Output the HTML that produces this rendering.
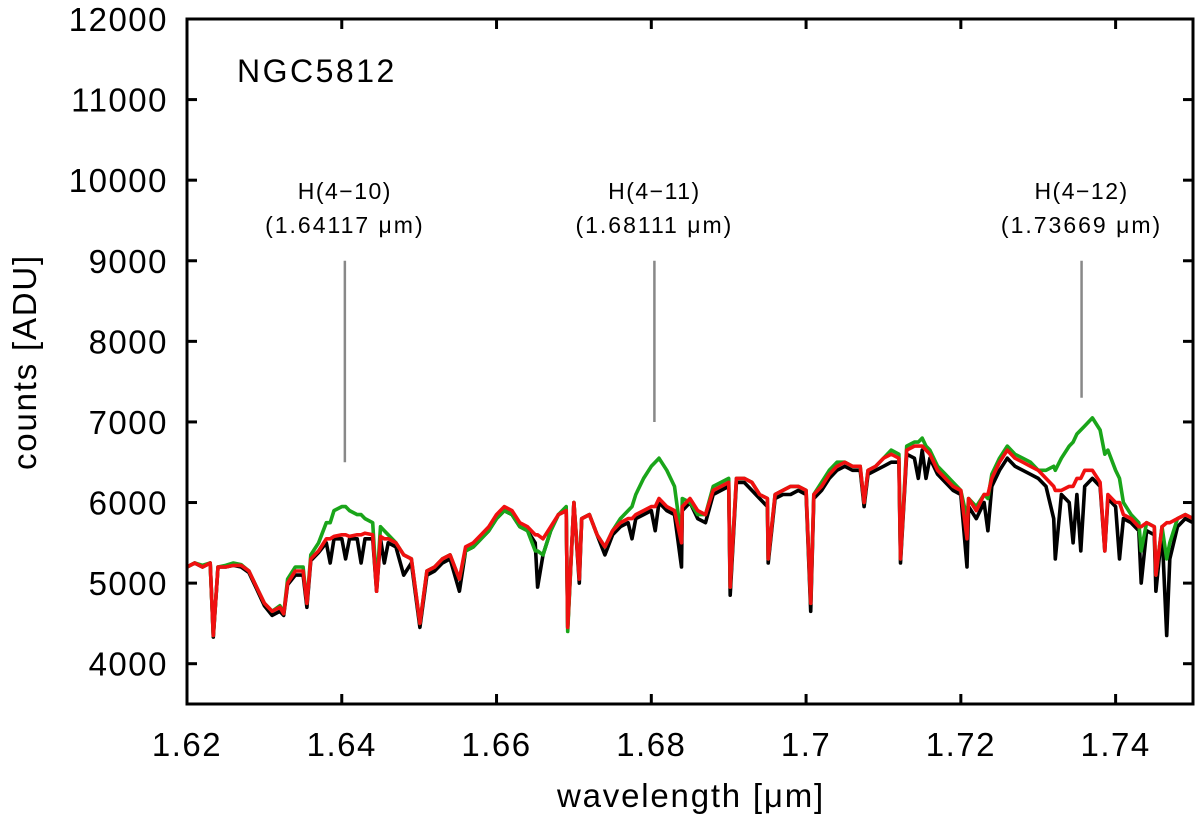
<!DOCTYPE html>
<html><head><meta charset="utf-8"><style>
html,body{margin:0;padding:0;background:#fff;}
svg text{font-family:"Liberation Sans",Arial,sans-serif;}
</style></head><body>
<svg id="chart" width="1200" height="818" viewBox="0 0 1200 818" xmlns="http://www.w3.org/2000/svg">
<g id="series"></g>
<g id="annot"></g>
<g id="axes"></g>
<text x="237" y="82" font-size="32" letter-spacing="2.5">NGC5812</text>
<text x="691" y="807" font-size="33" letter-spacing="1.8" text-anchor="middle">wavelength [μm]</text>
<text transform="translate(36,362) rotate(-90)" font-size="33" letter-spacing="1.8" text-anchor="middle">counts [ADU]</text>
</svg>
<script>
const wl=[1.620,1.621,1.622,1.623,1.6234,1.624,1.625,1.626,1.627,1.628,1.629,1.630,1.631,1.632,1.6325,1.633,1.634,1.635,1.6355,1.636,1.637,1.638,1.6385,1.639,1.640,1.6405,1.641,1.642,1.6425,1.643,1.644,1.6445,1.645,1.6455,1.646,1.647,1.648,1.649,1.6501,1.651,1.652,1.653,1.654,1.6552,1.656,1.657,1.658,1.659,1.660,1.661,1.662,1.663,1.664,1.665,1.6653,1.666,1.667,1.668,1.669,1.6692,1.670,1.6707,1.671,1.672,1.673,1.674,1.675,1.676,1.677,1.6775,1.678,1.679,1.680,1.6805,1.681,1.682,1.683,1.6839,1.684,1.685,1.686,1.687,1.688,1.689,1.690,1.6902,1.691,1.692,1.693,1.694,1.695,1.6951,1.696,1.697,1.698,1.699,1.700,1.7006,1.701,1.702,1.703,1.704,1.705,1.706,1.707,1.7075,1.708,1.709,1.710,1.711,1.712,1.7122,1.713,1.714,1.7145,1.715,1.7155,1.716,1.717,1.718,1.719,1.720,1.7208,1.721,1.722,1.723,1.7235,1.724,1.725,1.726,1.727,1.728,1.729,1.730,1.731,1.732,1.7322,1.733,1.734,1.7345,1.735,1.7355,1.736,1.737,1.738,1.7386,1.739,1.740,1.7405,1.741,1.742,1.743,1.7433,1.744,1.745,1.7452,1.746,1.7466,1.747,1.748,1.749,1.750];
const redVals=[5200,5250,5200,5250,4350,5200,5200,5220,5220,5150,4950,4750,4650,4700,4620,5000,5150,5150,4750,5300,5400,5550,5550,5580,5600,5600,5580,5600,5600,5620,5600,4900,5580,5550,5550,5500,5350,5300,4500,5150,5200,5300,5350,5050,5450,5500,5600,5700,5850,5950,5900,5750,5700,5600,5600,5550,5700,5850,5900,4450,6000,5050,5800,5850,5600,5450,5650,5750,5800,5800,5850,5900,5950,5950,6050,5950,5900,5500,5950,6050,5900,5850,6150,6200,6250,4950,6300,6300,6250,6100,6050,5300,6100,6150,6200,6200,6150,4750,6100,6200,6350,6450,6500,6450,6450,6000,6400,6450,6550,6600,6550,5300,6650,6700,6700,6700,6650,6600,6400,6300,6200,6150,5550,6050,5900,6100,6100,6300,6500,6650,6550,6500,6450,6400,6300,6200,6150,6150,6200,6200,6300,6300,6400,6400,6250,5400,6100,6000,6000,5850,5800,5700,5700,5750,5700,5100,5700,5750,5750,5800,5850,5800];
const greenVals=[5200,5250,5220,5250,4350,5200,5220,5250,5230,5150,4950,4750,4650,4720,4620,5050,5200,5200,4750,5350,5500,5750,5750,5900,5950,5950,5900,5850,5850,5800,5750,4950,5700,5650,5600,5500,5350,5300,4500,5150,5200,5300,5350,5050,5400,5450,5550,5650,5800,5900,5850,5700,5650,5400,5400,5350,5650,5850,5950,4400,6000,5100,5800,5850,5600,5450,5650,5800,5900,5950,6100,6300,6450,6500,6550,6400,6200,5550,6050,6000,5850,5850,6200,6250,6300,4950,6300,6300,6250,6100,6050,5300,6100,6150,6200,6200,6150,4750,6100,6250,6400,6500,6500,6450,6450,6000,6400,6450,6550,6650,6600,5300,6700,6750,6750,6800,6700,6650,6450,6350,6250,6150,5800,6050,5950,6100,6050,6350,6550,6700,6600,6550,6500,6400,6400,6450,6400,6550,6700,6750,6850,6900,6950,7050,6900,6600,6650,6400,6300,6000,5850,5750,5400,5750,5700,5100,5700,5300,5500,5800,5850,5800];
const blackVals=[5200,5250,5200,5250,4330,5200,5200,5220,5200,5130,4930,4720,4600,4650,4600,4980,5100,5100,4700,5280,5380,5500,5250,5550,5550,5300,5550,5550,5250,5550,5550,4900,5550,5250,5500,5450,5100,5250,4450,5100,5150,5250,5300,4900,5400,5450,5550,5650,5800,5900,5850,5700,5650,5500,4950,5350,5650,5850,5900,4450,6000,5000,5800,5850,5600,5350,5600,5700,5750,5550,5800,5850,5900,5650,6000,5900,5850,5200,5900,6000,5800,5750,6100,6150,6200,4850,6250,6250,6150,6050,5950,5250,6050,6100,6100,6150,6100,4650,6050,6150,6300,6400,6450,6400,6400,5950,6350,6400,6450,6500,6500,5250,6600,6550,6300,6650,6300,6550,6350,6250,6150,6100,5200,5950,5800,6000,5650,6200,6400,6550,6450,6400,6350,6300,6200,5800,5300,6100,6000,5500,6100,5400,6200,6300,6200,5400,6050,5950,5300,5800,5750,5650,5000,5650,5600,4900,5650,4350,5300,5700,5800,5750];
const xTicks=[1.62,1.64,1.66,1.68,1.70,1.72,1.74];
const xTickLabels=["1.62","1.64","1.66","1.68","1.7","1.72","1.74"];
const yTicks=[4000,5000,6000,7000,8000,9000,10000,11000,12000];
const lineWl=[1.6404,1.6804,1.7356];
const lineTop=[9000,9000,9000];
const lineBottom=[6500,7000,7300];
const lineNames=["H(4\u221210)","H(4\u221211)","H(4\u221212)"];
const lineLabels=["(1.64117 \u03bcm)","(1.68111 \u03bcm)","(1.73669 \u03bcm)"];

const L=187,R=1193,T=19,B=704,X0=1.62,X1=1.75,Y0=3500,Y1=12000;
const sx=w=>L+(w-X0)/(X1-X0)*(R-L);
const sy=v=>B-(v-Y0)/(Y1-Y0)*(B-T);
const NS='http://www.w3.org/2000/svg';
function mk(tag,attrs,parent){const e=document.createElementNS(NS,tag);for(const k in attrs)e.setAttribute(k,attrs[k]);parent.appendChild(e);return e;}
const sg=document.getElementById('series');
function drawSeries(vals,color,name){
  const d=vals.map((v,i)=>(i?'L':'M')+sx(wl[i]).toFixed(1)+','+sy(v).toFixed(1)).join('');
  const p=mk('path',{d:d,fill:'none',stroke:color,'stroke-width':3.6,'stroke-linejoin':'round'},sg);
  
  
}
drawSeries(blackVals,'#000','spectrum-black');
drawSeries(greenVals,'#1aa51a','spectrum-green');
drawSeries(redVals,'#f01010','spectrum-red');

const an=document.getElementById('annot');
lineWl.forEach((w,i)=>{
  const l=mk('line',{x1:sx(w),x2:sx(w),y1:sy(lineTop[i]),y2:sy(lineBottom[i]),stroke:'#888','stroke-width':2.5},an);
  
  
  const t1=mk('text',{x:sx(w),y:199,'font-size':23,'letter-spacing':1.5,'text-anchor':'middle'},an);t1.textContent=lineNames[i];
  
  
  const t2=mk('text',{x:sx(w),y:233,'font-size':23,'letter-spacing':2,'text-anchor':'middle'},an);t2.textContent=lineLabels[i];
  
  
});

const ax=document.getElementById('axes');
const fr=mk('rect',{x:L,y:T,width:R-L,height:B-T,fill:'none',stroke:'#000','stroke-width':3},ax);


xTicks.forEach((w,i)=>{
  const x=sx(w);
  mk('line',{x1:x,x2:x,y1:B,y2:B-10,stroke:'#000','stroke-width':3},ax);
  mk('line',{x1:x,x2:x,y1:T,y2:T+10,stroke:'#000','stroke-width':3},ax);
  const t=mk('text',{x:x,y:756,'font-size':33,'letter-spacing':1.5,'text-anchor':'middle'},ax);t.textContent=xTickLabels[i];
  
  
});
yTicks.forEach(v=>{
  const y=sy(v);
  mk('line',{x1:L,x2:L+10,y1:y,y2:y,stroke:'#000','stroke-width':3},ax);
  mk('line',{x1:R,x2:R-10,y1:y,y2:y,stroke:'#000','stroke-width':3},ax);
  const t=mk('text',{x:168,y:y+12,'font-size':33,'letter-spacing':1.5,'text-anchor':'end'},ax);t.textContent=String(v);
  
  
});
</script>
</body></html>
